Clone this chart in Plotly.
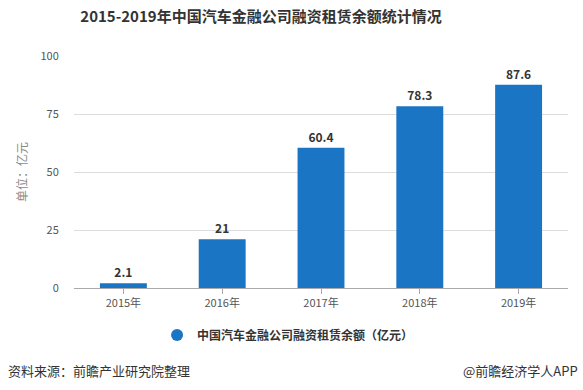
import plotly.graph_objects as go

categories = ["2015年", "2016年", "2017年", "2018年", "2019年"]
values = [2.1, 21, 60.4, 78.3, 87.6]
labels = ["2.1", "21", "60.4", "78.3", "87.6"]
series_name = "中国汽车金融公司融资租赁余额（亿元）"
y_ticks = [0, 25, 50, 75, 100]

FONT = "Noto Sans CJK SC"
W, H = 583, 390
ML, MR, MT, MB = 73.5, 14.5, 56, 102
PH = H - MT - MB
PW = W - ML - MR
BLUE = "#1a76c5"

fig = go.Figure()
fig.add_trace(go.Bar(
    x=categories, y=values, name=series_name, showlegend=False,
    marker=dict(color=BLUE, line=dict(width=0)),
    width=0.475,
    text=labels, textposition="outside", cliponaxis=False,
    textfont=dict(family=FONT, size=12, color="#333333", weight="bold"),
))
# legend entry with a circle marker
fig.add_trace(go.Scatter(
    x=[None], y=[None], mode="markers", name=series_name, showlegend=True,
    marker=dict(symbol="circle", size=12, color=BLUE),
))

fig.update_layout(
    width=W, height=H,
    margin=dict(l=ML, r=MR, t=MT, b=MB, autoexpand=False),
    paper_bgcolor="white", plot_bgcolor="white",
    font=dict(family=FONT, color="#555555"),
    showlegend=True,
    legend=dict(orientation="h", x=(288 - ML) / PW, xanchor="center",
                y=(H - MB - 335) / PH, yanchor="middle",
                font=dict(family=FONT, size=12, color="#333333", weight="bold"),
                itemsizing="constant", bgcolor="rgba(0,0,0,0)"),
    title=dict(text="2015-2019年中国汽车金融公司融资租赁余额统计情况",
               x=261 / W, xanchor="center", y=1 - 17 / H, yanchor="middle",
               font=dict(family=FONT, size=15, color="#333333", weight="bold")),
    bargap=0.525,
)

fig.update_xaxes(
    showline=True, linecolor="#aaaaaa", linewidth=1,
    ticks="outside", tickcolor="#aaaaaa", ticklen=5,
    tickfont=dict(family=FONT, size=11, color="#555555"),
    showgrid=False,
)
fig.update_yaxes(
    range=[0, 100], tickvals=y_ticks,
    showgrid=True, gridcolor="#dddddd", gridwidth=1,
    zeroline=False, showline=False,
    ticks="outside", tickcolor="rgba(0,0,0,0)", ticklen=12,
    tickfont=dict(family=FONT, size=11, color="#555555"),
    title=dict(text="单位：亿元", font=dict(family=FONT, size=12, color="#8a8a8a"), standoff=10),
)

FY = (H - MB - 370) / PH
fig.add_annotation(text="资料来源：前瞻产业研究院整理", xref="paper", yref="paper",
                   x=(5 - ML) / PW, xanchor="left", y=FY, yanchor="middle",
                   showarrow=False, font=dict(family=FONT, size=13, color="#333333"))
fig.add_annotation(text="@前瞻经济学人APP", xref="paper", yref="paper",
                   x=(581 - ML) / PW, xanchor="right", y=FY, yanchor="middle",
                   showarrow=False, font=dict(family=FONT, size=13, color="#333333"))

fig.write_html("out.html", config={"displayModeBar": False},
               post_script="document.body.style.margin='0';document.body.style.padding='0';")
